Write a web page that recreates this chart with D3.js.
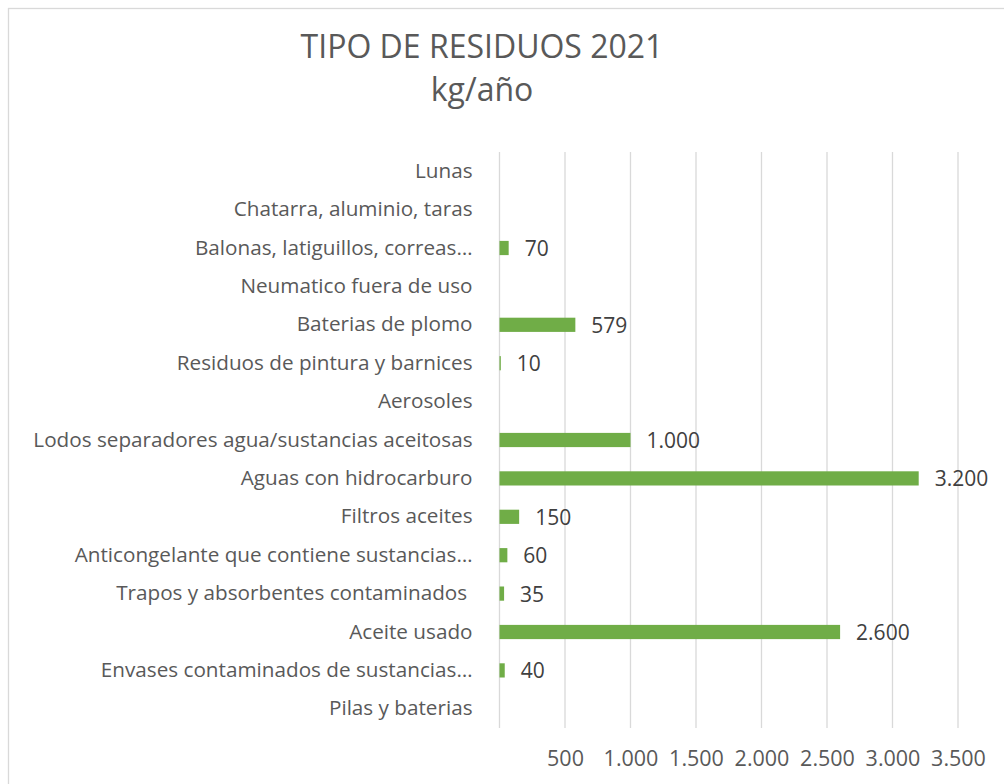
<!DOCTYPE html>
<html>
<head>
<meta charset="utf-8">
<script src="https://cdn.jsdelivr.net/npm/d3@7"></script>
<style>
  body { margin: 0; background: #fff; }
  text { font-family: "Open Sans", sans-serif; fill: #595959; }
</style>
</head>
<body>
<div id="chart"></div>
<script>
// categories, top to bottom
var categorias = [
    "Lunas",
    "Chatarra, aluminio, taras",
    "Balonas, latiguillos, correas…",
    "Neumatico fuera de uso",
    "Baterias de plomo",
    "Residuos de pintura y barnices",
    "Aerosoles",
    "Lodos separadores agua/sustancias aceitosas",
    "Aguas con hidrocarburo",
    "Filtros aceites",
    "Anticongelante que contiene sustancias…",
    "Trapos y absorbentes contaminados ",
    "Aceite usado",
    "Envases contaminados de sustancias…",
    "Pilas y baterias"
]
// kg/año, null = sin dato
var valores = [null, null, 70, null, 579, 10, null, 1000, 3200, 150, 60, 35, 2600, 40, null]
var ticks = [0, 500, 1000, 1500, 2000, 2500, 3000, 3500]

var width = 1004, height = 784
var margin = { top: 152, right: 46, bottom: 56, left: 499.5 }

var svg = d3.select("#chart")
    .append("svg")
    .attr("width", width)
    .attr("height", height)

// frame of the chart area
svg.append("rect")
    .attr("x", 8.5)
    .attr("y", 8.5)
    .attr("width", 1010)
    .attr("height", 790)
    .attr("fill", "none")
    .attr("stroke", "#d9d9d9")
    .attr("stroke-width", 1.3)

// title
svg.append("text")
    .attr("x", 482)
    .attr("y", 58)
    .attr("text-anchor", "middle")
    .style("font-size", "32px")
    .text("TIPO DE RESIDUOS 2021")
svg.append("text")
    .attr("x", 482)
    .attr("y", 101)
    .attr("text-anchor", "middle")
    .style("font-size", "32px")
    .text("kg/año")

var x = d3.scaleLinear()
    .domain([0, 3500])
    .range([margin.left, width - margin.right])

var y = d3.scaleBand()
    .domain(categorias)
    .range([margin.top, height - margin.bottom])
    .paddingInner(0.63)
    .paddingOuter(0.315)

// gridlines
svg.append("g")
    .selectAll("line")
    .data(ticks)
    .enter()
    .append("line")
    .attr("x1", function (d) { return x(d) })
    .attr("x2", function (d) { return x(d) })
    .attr("y1", margin.top)
    .attr("y2", height - margin.bottom)
    .attr("stroke", "#d9d9d9")
    .attr("stroke-width", 1.3)

// x axis labels (no 0)
var xAxis = svg.append("g")
    .attr("transform", "translate(0," + (height - margin.bottom) + ")")
    .call(d3.axisBottom(x)
        .tickValues(ticks.slice(1))
        .tickSize(0)
        .tickPadding(23)
        .tickFormat(function (d) { return d3.format(",")(d).replace(/,/g, ".") }))
xAxis.select(".domain").remove()
xAxis.selectAll("text")
    .style("font-size", "21.5px")
    .style("font-family", "'Open Sans', sans-serif")
    .attr("fill", "#595959")

// y axis labels
var yAxis = svg.append("g")
    .attr("transform", "translate(" + (margin.left - 27) + ",0)")
    .call(d3.axisLeft(y).tickSize(0).tickPadding(0))
yAxis.select(".domain").remove()
yAxis.selectAll("text")
    .style("font-size", "20.7px")
    .style("font-family", "'Open Sans', sans-serif")
    .style("white-space", "pre")
    .attr("fill", "#595959")

var datos = categorias.map(function (c, i) { return { cat: c, val: valores[i] } })
    .filter(function (d) { return d.val != null })

// bars
svg.append("g")
    .selectAll("rect")
    .data(datos)
    .enter()
    .append("rect")
    .attr("x", x(0))
    .attr("y", function (d) { return y(d.cat) })
    .attr("width", function (d) { return x(d.val) - x(0) })
    .attr("height", y.bandwidth())
    .attr("fill", "#70ad47")

// data labels
svg.append("g")
    .selectAll("text")
    .data(datos)
    .enter()
    .append("text")
    .attr("x", function (d) { return x(d.val) + 16 })
    .attr("y", function (d) { return y(d.cat) + y.bandwidth() / 2 })
    .attr("dy", "0.38em")
    .style("font-size", "21px")
    .style("fill", "#404040")
    .text(function (d) { return d3.format(",")(d.val).replace(/,/g, ".") })
</script>
</body>
</html>
